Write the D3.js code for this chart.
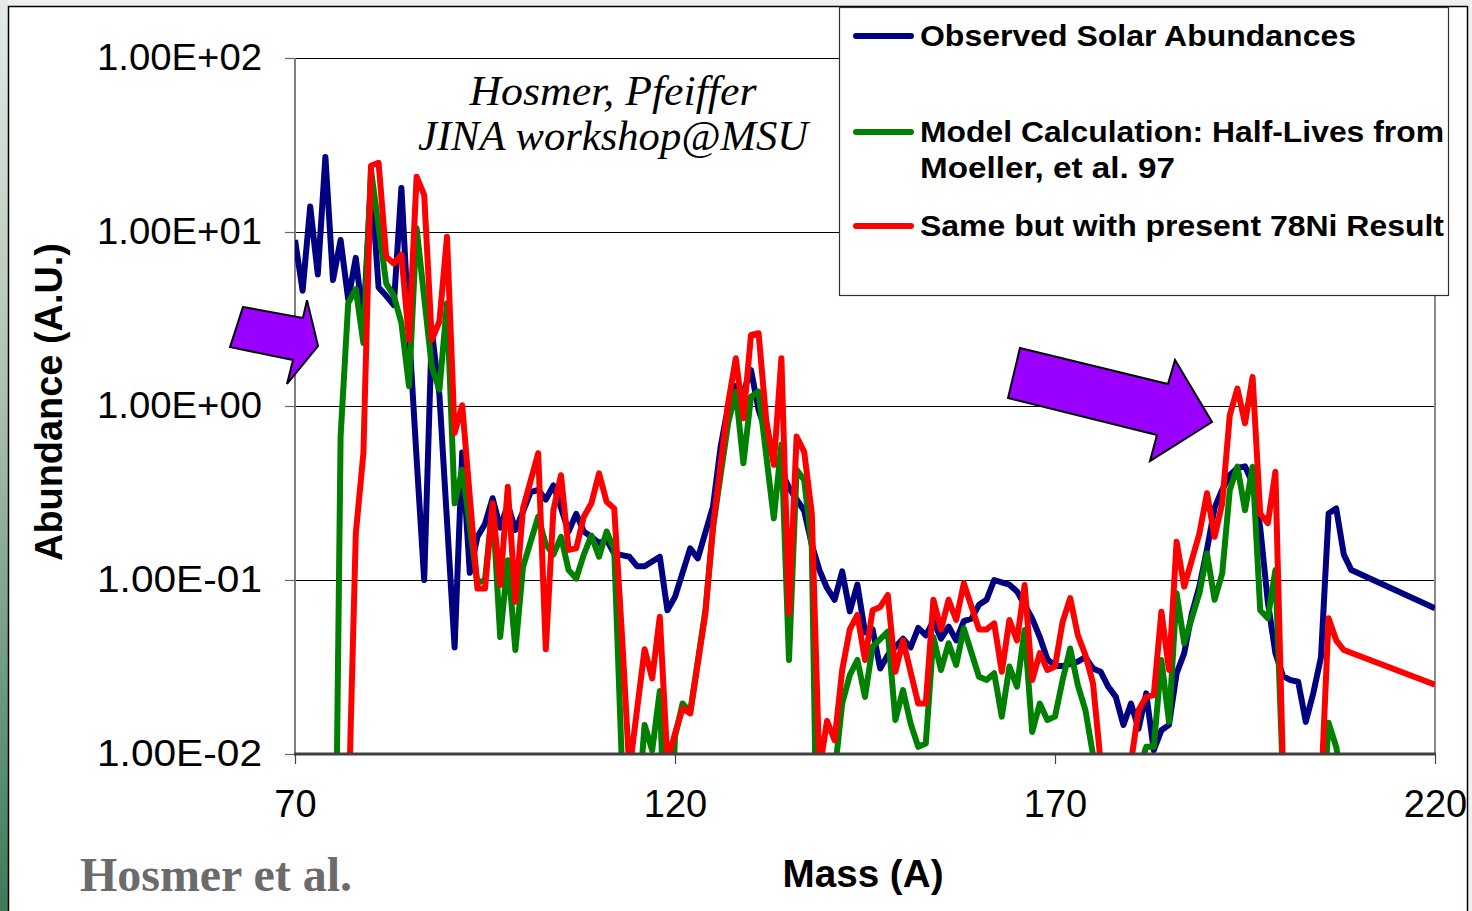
<!DOCTYPE html>
<html>
<head>
<meta charset="utf-8">
<script src="https://cdn.jsdelivr.net/npm/d3@7"></script>
<style>
  body { margin: 0; background: #ffffff; }
  svg { display: block; }
</style>
</head>
<body>
<svg id="chart" width="1472" height="911"></svg>
<script>
// ---- data: abundance vs. mass number ----
const solarMass = [70,71,72,73,74,75,76,77,78,79,80,81,82,83,84,85,86,87,88,89,91,92,93,94,95,96,97,98,99,100,
  101,102,103,104,105,106,107,108,109,110,111,112,113,114,115,116,118,119,120,122,123,125,126,127,128,129,130,
  131,132,133,134,135,136,137,138,139,140,141,142,143,144,145,146,147,148,150,151,152,153,154,155,156,157,158,
  159,160,161,162,163,164,165,166,167,168,169,170,171,172,173,174,175,176,177,178,179,180,181,182,183,184,185,
  186,187,188,189,190,191,192,193,194,195,196,197,198,199,200,201,202,203,204,205,206,207,208,209,220];
const solarAbund = [9.0,4.6,14,5.7,27,5.3,9.0,4.1,7.1,3.0,20,4.8,4.3,3.8,17.9,2.7,0.5,0.1,2.7,1.16,0.041,0.54,0.11,0.177,0.21,0.295,0.2,0.27,0.194,0.247,
  0.32,0.33,0.29,0.35,0.26,0.19,0.24,0.19,0.177,0.163,0.17,0.142,0.139,0.136,0.12,0.12,0.136,0.067,0.08,0.152,0.133,0.264,0.58,1.0,1.3,1.2,1.61,
  0.95,0.7,0.5,0.42,0.34,0.29,0.25,0.16,0.114,0.09,0.077,0.112,0.066,0.094,0.05,0.052,0.031,0.037,0.046,0.041,0.053,0.048,0.058,0.046,0.054,0.045,0.058,
  0.06,0.072,0.077,0.1,0.097,0.094,0.086,0.072,0.06,0.047,0.035,0.032,0.032,0.033,0.034,0.036,0.031,0.0297,0.0244,0.0213,0.0147,0.0195,0.014,0.0223,0.0105,0.0137,0.0147,
  0.029,0.038,0.064,0.092,0.15,0.26,0.33,0.4,0.44,0.45,0.36,0.2,0.075,0.038,0.028,0.0266,0.026,0.0153,0.0225,0.036,0.241,0.258,0.14,0.114,0.0687];

const moellerMass = [75,76,77,78,79,80,82,83,84,85,86,88,89,90,91,92,94,95,96,97,98,99,100,102,103,104,105,106,107,108,109,110,111,112,
  113,114,115,116,117,118,119,120,121,122,124,125,127,128,129,130,131,133,134,135,136,137,138,139,140,141,142,143,144,145,146,148,149,150,
  151,152,153,154,155,156,157,158,160,161,162,163,164,165,166,167,168,169,170,171,172,173,174,175,176,181,182,183,184,185,186,187,189,190,
  191,192,193,194,195,196,197,198,199,200,205,206,207,208,209];
const moellerAbund = [0.0001,0.667,3.9,4.7,2.3,22.7,5.07,4.3,3.0,1.3,10.5,1.68,1.24,3.9,0.276,0.43,0.096,0.1,0.27,0.047,0.13,0.0396,0.119,0.231,0.16,0.14,0.177,0.114,0.102,0.14,0.18,0.136,0.19,0.15,
  0.009,0.003,0.004,0.0147,0.0105,0.023,0.001,0.0126,0.0195,0.0175,0.067,0.2,0.8,1.21,0.469,1.13,1.21,0.226,0.6,0.0347,0.43,0.376,0.155,0.0003,0.003,0.0077,0.0195,0.0284,0.0347,0.0213,0.0414,0.0505,0.0157,0.0233,
  0.015,0.011,0.0115,0.047,0.0304,0.0433,0.0325,0.0527,0.0278,0.0266,0.0291,0.0164,0.0318,0.0244,0.0516,0.0134,0.0195,0.0157,0.0164,0.0266,0.0404,0.0249,0.0179,0.0099,0.004,0.008,0.011,0.011,0.0347,0.0153,0.084,0.0433,0.084,0.142,
  0.077,0.109,0.329,0.448,0.252,0.448,0.067,0.0603,0.114,0.007,0.003,0.0151,0.011,0.006,0.004];

const ni78Mass = [77,78,79,80,81,82,83,84,85,86,87,88,89,90,91,92,94,95,96,97,98,99,100,102,103,104,105,106,107,108,109,110,111,112,
  113,114,116,117,118,119,120,121,122,124,125,127,128,129,130,131,132,133,134,135,136,137,138,139,140,141,142,143,144,145,146,147,148,149,150,
  152,153,154,155,156,157,158,160,161,162,163,164,165,166,167,168,169,170,171,172,173,174,175,176,180,181,182,183,184,185,186,187,189,190,
  191,192,193,194,195,196,197,198,199,200,205,206,207,208,220];
const ni78Abund = [0.004,0.185,0.535,24,25,7.2,6.6,7.4,2.4,20.8,16.3,2.4,3.06,9.4,0.7,1.01,0.0895,0.0895,0.276,0.0935,0.343,0.075,0.258,0.535,0.04,0.252,0.4,0.149,0.152,0.231,0.276,0.41,0.282,0.258,
  0.05,0.008,0.04,0.0272,0.0615,0.009,0.0131,0.0183,0.0171,0.0644,0.202,1.04,1.88,0.85,2.56,2.62,0.83,0.46,1.88,0.0644,0.667,0.545,0.241,0.008,0.0155,0.012,0.0304,0.052,0.063,0.0347,0.067,0.07,0.082,0.0297,0.045,
  0.0195,0.0195,0.077,0.052,0.077,0.0589,0.0958,0.052,0.052,0.0563,0.0297,0.0589,0.045,0.0935,0.0266,0.038,0.0304,0.0318,0.0575,0.0786,0.0483,0.037,0.0255,0.009,0.009,0.0179,0.0213,0.0218,0.0657,0.0304,0.166,0.0916,0.185,0.315,
  0.177,0.276,0.887,1.26,0.796,1.47,0.241,0.212,0.419,0.008,0.006,0.0603,0.045,0.0396,0.025];

const massTicks = [70, 120, 170, 220];
const abundTicks = [0.01, 0.1, 1, 10, 100];
const abundTickLabels = ["1.00E-02", "1.00E-01", "1.00E+00", "1.00E+01", "1.00E+02"];

const seriesNames = ["Observed Solar Abundances", "Model Calculation: Half-Lives from", "Same but with present 78Ni Result"];
const seriesColors = ["#000080", "#008000", "#ff0000"];

// arrow call-outs, outline given as [mass, abundance] pairs
const arrowLow = [[63.16,3.71],[71.05,3.21],[71.58,4.06],[73.03,2.21],[68.95,1.34],[69.74,1.84],[61.45,2.18]];
const arrowHigh = [[165.39,2.154],[184.87,1.338],[185.79,1.838],[190.66,0.809],[182.5,0.483],[183.42,0.681],[163.82,1.111]];

// ---- layout ----
const svg = d3.select("#chart");
const W = 1472, H = 911;
const plot = { left: 295, right: 1435, top: 58, bottom: 754 };

const x = d3.scaleLinear().domain([70, 220]).range([plot.left, plot.right]);
const y = d3.scaleLog().domain([0.01, 100]).range([plot.bottom, plot.top]);

// slide background and frame
const defs = svg.append("defs");
const grad = defs.append("linearGradient").attr("id", "edge").attr("x1", 0).attr("y1", 0).attr("x2", 0).attr("y2", 1);
grad.append("stop").attr("offset", "0%").attr("stop-color", "#e6ebe7");
grad.append("stop").attr("offset", "45%").attr("stop-color", "#a9bfb0");
grad.append("stop").attr("offset", "100%").attr("stop-color", "#3d7a58");
defs.append("clipPath").attr("id", "plotClip").append("rect")
  .attr("x", plot.left).attr("y", plot.top - 10)
  .attr("width", plot.right - plot.left).attr("height", plot.bottom - plot.top + 10);

svg.append("rect").attr("width", W).attr("height", H).attr("fill", "#eef1ee");
svg.append("rect").attr("x", 0).attr("y", 0).attr("width", 8).attr("height", H).attr("fill", "url(#edge)");
svg.append("rect").attr("x", 8.5).attr("y", 6.5).attr("width", 1459).attr("height", H)
  .attr("fill", "#ffffff").attr("stroke", "#000").attr("stroke-width", 1.5);

// gridlines
const grid = svg.append("g").attr("transform", `translate(${plot.left},0)`)
  .call(d3.axisLeft(y).tickValues(abundTicks.slice(1)).tickSize(-(plot.right - plot.left)).tickFormat(""));
grid.select(".domain").remove();
grid.selectAll("line").attr("stroke", "#000").attr("stroke-width", 1.2);

// plot frame: left & right grey edges, bottom axis
svg.append("line").attr("x1", plot.right).attr("x2", plot.right).attr("y1", plot.top).attr("y2", plot.bottom)
  .attr("stroke", "#8a8a8a").attr("stroke-width", 2);
svg.append("line").attr("x1", plot.left).attr("x2", plot.left).attr("y1", plot.top).attr("y2", plot.bottom)
  .attr("stroke", "#808080").attr("stroke-width", 2);

// y axis ticks and labels
const yAxis = svg.append("g").attr("transform", `translate(${plot.left},0)`)
  .call(d3.axisLeft(y).tickValues(abundTicks).tickFormat((d, i) => abundTickLabels[i]).tickSize(10).tickPadding(23));
yAxis.select(".domain").remove();
yAxis.selectAll("line").attr("stroke", "#666").attr("stroke-width", 1.2);
yAxis.selectAll("text").attr("fill", "#000")
  .style("font-family", "'Liberation Sans', Arial, sans-serif").style("font-size", "37px")
  .attr("textLength", 165).attr("lengthAdjust", "spacingAndGlyphs");

// x axis ticks and labels
const xAxis = svg.append("g").attr("transform", `translate(0,${plot.bottom})`)
  .call(d3.axisBottom(x).tickValues(massTicks).tickSize(10).tickPadding(26));
xAxis.select(".domain").remove();
xAxis.selectAll("line").attr("stroke", "#444").attr("stroke-width", 1.2);
xAxis.selectAll("text").attr("fill", "#000")
  .style("font-family", "'Liberation Sans', Arial, sans-serif").style("font-size", "38px");

// series lines
const line = d3.line().x(d => x(d[0])).y(d => y(d[1]));
const series = [
  d3.zip(solarMass, solarAbund),
  d3.zip(moellerMass, moellerAbund),
  d3.zip(ni78Mass, ni78Abund)
];
const lines = svg.append("g").attr("clip-path", "url(#plotClip)");
series.forEach((s, i) => {
  lines.append("path").datum(s).attr("d", line)
    .attr("fill", "none").attr("stroke", seriesColors[i]).attr("stroke-width", 6)
    .attr("stroke-linejoin", "round").attr("stroke-linecap", "butt");
});

// bottom axis line on top of the series
svg.append("line").attr("x1", plot.left - 1).attr("x2", plot.right + 1).attr("y1", plot.bottom).attr("y2", plot.bottom)
  .attr("stroke", "#404040").attr("stroke-width", 3);

// arrows
const arrowPath = d3.line().x(d => x(d[0])).y(d => y(d[1])).curve(d3.curveLinearClosed);
[arrowLow, arrowHigh].forEach(a => {
  svg.append("path").attr("d", arrowPath(a))
    .attr("fill", "#9900ff").attr("stroke", "#000").attr("stroke-width", 2).attr("stroke-linejoin", "miter");
});

// credit lines inside the plot
const credit = svg.append("g").style("font-family", "'Liberation Serif', 'Times New Roman', serif")
  .style("font-style", "italic").style("font-size", "42px").attr("fill", "#000").attr("text-anchor", "middle");
credit.append("text").attr("x", 613).attr("y", 105).text("Hosmer, Pfeiffer")
  .attr("textLength", 287).attr("lengthAdjust", "spacingAndGlyphs");
credit.append("text").attr("x", 613).attr("y", 150).text("JINA workshop@MSU")
  .attr("textLength", 390).attr("lengthAdjust", "spacingAndGlyphs");

// legend
const legend = svg.append("g");
legend.append("rect").attr("x", 839.5).attr("y", 7.5).attr("width", 609).attr("height", 288)
  .attr("fill", "#fff").attr("stroke", "#333").attr("stroke-width", 1.2);
const legendRows = [
  { y: 36, lines: [seriesNames[0]], widths: [436] },
  { y: 132, lines: [seriesNames[1], "Moeller, et al. 97"], widths: [524, 255] },
  { y: 226, lines: [seriesNames[2]], widths: [524] }
];
legendRows.forEach((row, i) => {
  legend.append("line").attr("x1", 856).attr("x2", 911).attr("y1", row.y).attr("y2", row.y)
    .attr("stroke", seriesColors[i]).attr("stroke-width", 6).attr("stroke-linecap", "round");
  row.lines.forEach((t, j) => {
    legend.append("text").attr("x", 920).attr("y", row.y + 36 * j).attr("dy", "0.36em")
      .style("font-family", "'Liberation Sans', Arial, sans-serif").style("font-weight", "bold").style("font-size", "29px")
      .attr("fill", "#000").attr("textLength", row.widths[j]).attr("lengthAdjust", "spacingAndGlyphs").text(t);
  });
});

// axis titles
svg.append("text").attr("transform", "translate(62,402) rotate(-90)").attr("text-anchor", "middle")
  .style("font-family", "'Liberation Sans Narrow', 'Arial Narrow', 'Liberation Sans', sans-serif")
  .style("font-weight", "bold").style("font-size", "38px").attr("fill", "#000")
  .attr("textLength", 318).attr("lengthAdjust", "spacingAndGlyphs").text("Abundance (A.U.)");
svg.append("text").attr("x", 863).attr("y", 887).attr("text-anchor", "middle")
  .style("font-family", "'Liberation Sans Narrow', 'Arial Narrow', 'Liberation Sans', sans-serif")
  .style("font-weight", "bold").style("font-size", "38px").attr("fill", "#000")
  .attr("textLength", 161).attr("lengthAdjust", "spacingAndGlyphs").text("Mass (A)");
svg.append("text").attr("x", 80).attr("y", 891)
  .style("font-family", "'Liberation Serif', 'Times New Roman', serif")
  .style("font-weight", "bold").style("font-size", "48px").attr("fill", "#6b6b6b")
  .attr("textLength", 272).attr("lengthAdjust", "spacingAndGlyphs").text("Hosmer et al.");
</script>
</body>
</html>
